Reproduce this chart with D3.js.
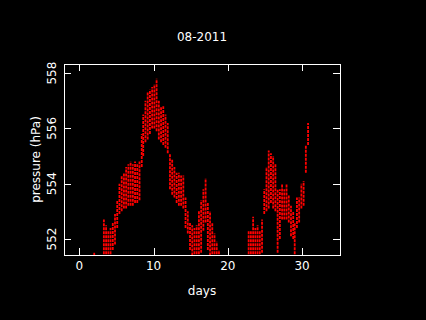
<!DOCTYPE html>
<html>
<head>
<meta charset="utf-8">
<script src="https://cdn.jsdelivr.net/npm/d3@7"></script>
<style>
  html, body { margin: 0; padding: 0; background: #000; }
  text { fill: #fff; font-family: "DejaVu Sans", sans-serif; font-size: 12px; }
  .frame line, .frame rect { stroke: #fff; stroke-width: 1; shape-rendering: crispEdges; }
</style>
</head>
<body>
<div id="chart"></div>
<script>
var title = '08-2011';
var xTicks = [0, 10, 20, 30];
var yTicks = [552, 554, 556, 558];

// sample day, lowest and highest reading seen around that time
var days = [2.0, 3.3, 3.6, 3.9, 4.2, 4.5, 4.8, 5.1, 5.4, 5.7, 6.0, 6.3, 6.6, 6.9, 7.2, 7.5, 7.8, 8.1,
  8.4, 8.6, 8.9, 9.2, 9.5, 9.8, 10.1, 10.4, 10.7, 11.0, 11.3, 11.6, 11.9, 12.2, 12.5, 12.8,
  13.1, 13.4, 13.7, 14.0, 14.3, 14.6, 14.9, 15.2, 15.5, 15.8, 16.1, 16.4, 16.7, 17.0, 17.3,
  17.6, 17.9, 18.2, 18.5, 18.8, 22.8, 23.1, 23.4, 23.7, 24.0, 24.3, 24.6, 24.9, 25.2, 25.5,
  25.8, 26.1, 26.4, 26.7, 27.0, 27.3, 27.6, 27.9, 28.2, 28.5, 28.8, 29.0, 29.3, 29.6, 29.9,
  30.2, 30.5, 30.8];
var lows = [551.40, 551.3, 551.3, 551.3, 551.3, 551.6, 551.8, 552.4, 552.9, 553.0, 553.1, 553.1, 553.2, 553.2, 553.2, 553.3, 553.3, 553.4,
  554.6, 555.0, 555.5, 555.6, 555.8, 556.0, 556.0, 555.9, 555.6, 555.5, 555.4, 555.3, 555.1, 553.8, 553.6, 553.5,
  553.3, 553.2, 553.2, 553.1, 552.4, 552.2, 551.6, 551.4, 551.3, 551.3, 551.3, 551.5, 552.3, 552.6, 551.6,
  551.4, 551.3, 551.3, 551.3, 551.3, 551.3, 551.3, 551.3, 551.3, 551.3, 551.3, 551.5, 552.9, 553.0, 553.1,
  553.3, 553.1, 553.0, 551.5, 552.0, 552.7, 552.7, 552.7, 552.6, 552.1, 552.0, 551.3, 552.4, 552.6, 553.1,
  553.2, 554.4, 555.4];
var highs = [551.50, 552.7, 552.5, 552.3, 552.4, 552.6, 552.9, 553.4, 554.0, 554.3, 554.4, 554.6, 554.7, 554.8, 554.7, 554.8, 554.7, 554.8,
  555.8, 556.5, 557.0, 557.3, 557.4, 557.5, 557.6, 557.8, 557.0, 556.8, 556.8, 556.5, 556.2, 555.1, 554.9, 554.6,
  554.4, 554.4, 554.3, 554.3, 553.5, 553.0, 552.6, 552.5, 552.4, 552.5, 553.0, 553.4, 553.8, 554.2, 553.3,
  553.0, 552.6, 552.2, 551.9, 551.6, 552.3, 552.3, 552.8, 552.4, 552.5, 552.3, 552.7, 553.8, 554.6, 555.2,
  555.1, 555.0, 554.7, 553.8, 553.8, 554.0, 553.8, 554.0, 553.6, 553.2, 553.0, 552.6, 553.5, 553.5, 554.0,
  554.1, 555.4, 556.2];

var width = 426, height = 320;
var plotLeft = 64, plotRight = 340, plotTop = 64, plotBottom = 255;

var svg = d3.select('#chart').append('svg')
  .attr('width', width)
  .attr('height', height)
  .style('background', '#000');

var x = d3.scaleLinear().domain([-2.07, 35.1]).range([plotLeft, plotRight]);
var y = d3.scaleLinear().domain([551.42, 558.33]).range([plotBottom, plotTop]);

svg.append('clipPath').attr('id', 'plot-clip')
  .append('rect')
  .attr('x', plotLeft).attr('y', plotTop)
  .attr('width', plotRight - plotLeft).attr('height', plotBottom - plotTop);

var samples = days.map(function(d, i) { return { day: d, lo: lows[i], hi: highs[i] }; });

svg.append('g').attr('clip-path', 'url(#plot-clip)')
  .selectAll('line.reading').data(samples)
  .enter().append('line')
  .attr('class', 'reading')
  .attr('x1', function(d) { return x(d.day); })
  .attr('x2', function(d) { return x(d.day); })
  .attr('y1', function(d) { return y(d.lo); })
  .attr('y2', function(d) { return y(d.hi); })
  .attr('stroke', '#ff0000')
  .attr('stroke-width', 1.8)
  .attr('stroke-dasharray', '3,1');

// frame with inward ticks on all sides
var frame = svg.append('g').attr('class', 'frame');
frame.append('rect')
  .attr('x', plotLeft).attr('y', plotTop)
  .attr('width', plotRight - plotLeft).attr('height', plotBottom - plotTop)
  .attr('fill', 'none');

var tickLen = 7;
frame.selectAll('line.xb').data(xTicks).enter().append('line')
  .attr('x1', function(d) { return Math.round(x(d)); })
  .attr('x2', function(d) { return Math.round(x(d)); })
  .attr('y1', plotBottom).attr('y2', plotBottom - tickLen);
frame.selectAll('line.xt').data(xTicks).enter().append('line')
  .attr('x1', function(d) { return Math.round(x(d)); })
  .attr('x2', function(d) { return Math.round(x(d)); })
  .attr('y1', plotTop).attr('y2', plotTop + tickLen);
frame.selectAll('line.yl').data(yTicks).enter().append('line')
  .attr('y1', function(d) { return Math.round(y(d)); })
  .attr('y2', function(d) { return Math.round(y(d)); })
  .attr('x1', plotLeft).attr('x2', plotLeft + tickLen);
frame.selectAll('line.yr').data(yTicks).enter().append('line')
  .attr('y1', function(d) { return Math.round(y(d)); })
  .attr('y2', function(d) { return Math.round(y(d)); })
  .attr('x1', plotRight).attr('x2', plotRight - tickLen);

svg.selectAll('text.xtick').data(xTicks).enter().append('text')
  .attr('class', 'xtick')
  .attr('x', function(d) { return x(d); })
  .attr('y', 270)
  .attr('text-anchor', 'middle')
  .text(function(d) { return d; });

svg.selectAll('text.ytick').data(yTicks).enter().append('text')
  .attr('class', 'ytick')
  .attr('transform', function(d) { return 'translate(56,' + y(d) + ') rotate(-90)'; })
  .attr('text-anchor', 'middle')
  .text(function(d) { return d; });

svg.append('text')
  .attr('x', 202).attr('y', 295)
  .attr('text-anchor', 'middle')
  .text('days');

svg.append('text')
  .attr('transform', 'translate(40,' + ((plotTop + plotBottom) / 2) + ') rotate(-90)')
  .attr('text-anchor', 'middle')
  .text('pressure (hPa)');

svg.append('text')
  .attr('x', 202).attr('y', 41)
  .attr('text-anchor', 'middle')
  .text(title);
</script>
</body>
</html>
